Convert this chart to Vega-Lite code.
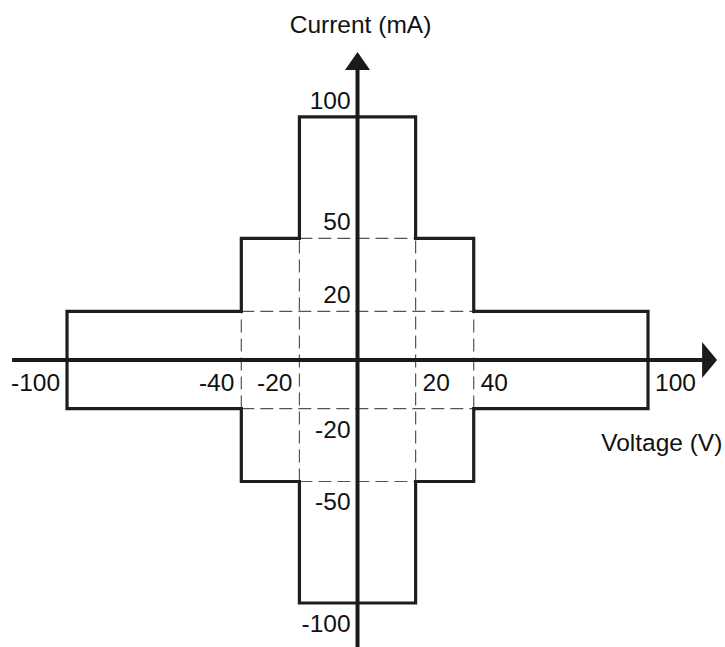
{
  "$schema": "https://vega.github.io/schema/vega-lite/v6.json",
  "width": 725,
  "height": 647,
  "autosize": {"type": "none"},
  "padding": 0,
  "background": "white",
  "config": {"view": {"stroke": null}, "text": {"font": "Liberation Sans", "fontSize": 24.5, "color": "#111111"}},
  "datasets": {
    "outline": [
      {"order": 1, "v": -100, "i": 20},
      {"order": 2, "v": -40, "i": 20},
      {"order": 3, "v": -40, "i": 50},
      {"order": 4, "v": -20, "i": 50},
      {"order": 5, "v": -20, "i": 100},
      {"order": 6, "v": 20, "i": 100},
      {"order": 7, "v": 20, "i": 50},
      {"order": 8, "v": 40, "i": 50},
      {"order": 9, "v": 40, "i": 20},
      {"order": 10, "v": 100, "i": 20},
      {"order": 11, "v": 100, "i": -20},
      {"order": 12, "v": 40, "i": -20},
      {"order": 13, "v": 40, "i": -50},
      {"order": 14, "v": 20, "i": -50},
      {"order": 15, "v": 20, "i": -100},
      {"order": 16, "v": -20, "i": -100},
      {"order": 17, "v": -20, "i": -50},
      {"order": 18, "v": -40, "i": -50},
      {"order": 19, "v": -40, "i": -20},
      {"order": 20, "v": -100, "i": -20},
      {"order": 21, "v": -100, "i": 20}
    ],
    "guides": [
      {"v": -20, "v2": 20, "i": 50, "i2": 50},
      {"v": -40, "v2": 40, "i": 20, "i2": 20},
      {"v": -40, "v2": 40, "i": -20, "i2": -20},
      {"v": -20, "v2": 20, "i": -50, "i2": -50},
      {"v": -40, "v2": -40, "i": -20, "i2": 20},
      {"v": -20, "v2": -20, "i": -50, "i2": 50},
      {"v": 20, "v2": 20, "i": -50, "i2": 50},
      {"v": 40, "v2": 40, "i": -20, "i2": 20}
    ],
    "axes": [
      {"v": -118.9, "v2": 121, "i": 0, "i2": 0},
      {"v": 0, "v2": 0, "i": -120, "i2": 123}
    ],
    "arrows": [
      {"v": 0, "i": 123, "dir": "up"},
      {"v": 121.2, "i": 0, "dir": "right"}
    ],
    "xticks": [
      {"v": -100, "i": 0, "label": "-100"},
      {"v": -40, "i": 0, "label": "-40"},
      {"v": -20, "i": 0, "label": "-20"},
      {"v": 20, "i": 0, "label": "20"},
      {"v": 40, "i": 0, "label": "40"},
      {"v": 100, "i": 0, "label": "100"}
    ],
    "yticks": [
      {"v": 0, "i": 100, "label": "100"},
      {"v": 0, "i": 50, "label": "50"},
      {"v": 0, "i": 20, "label": "20"},
      {"v": 0, "i": -20, "label": "-20"},
      {"v": 0, "i": -50, "label": "-50"},
      {"v": 0, "i": -100, "label": "-100"}
    ],
    "titles": [
      {"v": 0, "i": 134.6, "label": "Current (mA)", "which": "y"},
      {"v": 125.6, "i": -37.4, "label": "Voltage (V)", "which": "x"}
    ]
  },
  "layer": [
    {
      "data": {"name": "guides"},
      "mark": {"type": "rule", "color": "#555555", "strokeWidth": 1.2, "strokeDash": [13, 6]},
      "encoding": {
        "x": {"field": "v", "type": "quantitative", "scale": {"domain": [-123.07, 126.5], "nice": false, "zero": false}, "axis": null},
        "x2": {"field": "v2"},
        "y": {"field": "i", "type": "quantitative", "scale": {"domain": [-118.1, 148.1], "nice": false, "zero": false}, "axis": null},
        "y2": {"field": "i2"}
      }
    },
    {
      "data": {"name": "outline"},
      "mark": {"type": "line", "color": "#1e1e1e", "strokeWidth": 3.2, "strokeJoin": "miter", "strokeCap": "square"},
      "encoding": {
        "x": {"field": "v", "type": "quantitative", "scale": {"domain": [-123.07, 126.5], "nice": false, "zero": false}, "axis": null},
        "y": {"field": "i", "type": "quantitative", "scale": {"domain": [-118.1, 148.1], "nice": false, "zero": false}, "axis": null},
        "order": {"field": "order", "type": "quantitative"}
      }
    },
    {
      "data": {"name": "axes"},
      "mark": {"type": "rule", "color": "#1a1a1a", "strokeWidth": 4},
      "encoding": {
        "x": {"field": "v", "type": "quantitative", "scale": {"domain": [-123.07, 126.5], "nice": false, "zero": false}, "axis": null},
        "x2": {"field": "v2"},
        "y": {"field": "i", "type": "quantitative", "scale": {"domain": [-118.1, 148.1], "nice": false, "zero": false}, "axis": null},
        "y2": {"field": "i2"}
      }
    },
    {
      "data": {"name": "arrows"},
      "mark": {"type": "point", "filled": true, "opacity": 1, "color": "#1a1a1a", "size": 400},
      "encoding": {
        "x": {"field": "v", "type": "quantitative", "scale": {"domain": [-123.07, 126.5], "nice": false, "zero": false}, "axis": null},
        "y": {"field": "i", "type": "quantitative", "scale": {"domain": [-118.1, 148.1], "nice": false, "zero": false}, "axis": null},
        "shape": {"field": "dir", "type": "nominal", "legend": null, "scale": {"domain": ["up", "right"], "range": ["M 0 -0.9 L 1.25 0.9 L -1.25 0.9 Z", "M 0.75 0 L -0.75 -1.8 L -0.75 1.8 Z"]}}
      }
    },
    {
      "data": {"name": "xticks"},
      "transform": [{"filter": "datum.v < 0"}],
      "mark": {"type": "text", "align": "right", "baseline": "alphabetic", "dx": -7, "dy": 31},
      "encoding": {
        "x": {"field": "v", "type": "quantitative", "scale": {"domain": [-123.07, 126.5], "nice": false, "zero": false}, "axis": null},
        "y": {"field": "i", "type": "quantitative", "scale": {"domain": [-118.1, 148.1], "nice": false, "zero": false}, "axis": null},
        "text": {"field": "label", "type": "nominal"}
      }
    },
    {
      "data": {"name": "xticks"},
      "transform": [{"filter": "datum.v > 0"}],
      "mark": {"type": "text", "align": "left", "baseline": "alphabetic", "dx": 7, "dy": 31},
      "encoding": {
        "x": {"field": "v", "type": "quantitative", "scale": {"domain": [-123.07, 126.5], "nice": false, "zero": false}, "axis": null},
        "y": {"field": "i", "type": "quantitative", "scale": {"domain": [-118.1, 148.1], "nice": false, "zero": false}, "axis": null},
        "text": {"field": "label", "type": "nominal"}
      }
    },
    {
      "data": {"name": "yticks"},
      "transform": [{"filter": "datum.i > 0"}],
      "mark": {"type": "text", "align": "right", "baseline": "alphabetic", "dx": -7, "dy": -8},
      "encoding": {
        "x": {"field": "v", "type": "quantitative", "scale": {"domain": [-123.07, 126.5], "nice": false, "zero": false}, "axis": null},
        "y": {"field": "i", "type": "quantitative", "scale": {"domain": [-118.1, 148.1], "nice": false, "zero": false}, "axis": null},
        "text": {"field": "label", "type": "nominal"}
      }
    },
    {
      "data": {"name": "yticks"},
      "transform": [{"filter": "datum.i < 0"}],
      "mark": {"type": "text", "align": "right", "baseline": "alphabetic", "dx": -7, "dy": 29},
      "encoding": {
        "x": {"field": "v", "type": "quantitative", "scale": {"domain": [-123.07, 126.5], "nice": false, "zero": false}, "axis": null},
        "y": {"field": "i", "type": "quantitative", "scale": {"domain": [-118.1, 148.1], "nice": false, "zero": false}, "axis": null},
        "text": {"field": "label", "type": "nominal"}
      }
    },
    {
      "data": {"name": "titles"},
      "transform": [{"filter": "datum.which == 'y'"}],
      "mark": {"type": "text", "align": "center", "baseline": "alphabetic", "dx": 3},
      "encoding": {
        "x": {"field": "v", "type": "quantitative", "scale": {"domain": [-123.07, 126.5], "nice": false, "zero": false}, "axis": null},
        "y": {"field": "i", "type": "quantitative", "scale": {"domain": [-118.1, 148.1], "nice": false, "zero": false}, "axis": null},
        "text": {"field": "label", "type": "nominal"}
      }
    },
    {
      "data": {"name": "titles"},
      "transform": [{"filter": "datum.which == 'x'"}],
      "mark": {"type": "text", "align": "right", "baseline": "alphabetic"},
      "encoding": {
        "x": {"field": "v", "type": "quantitative", "scale": {"domain": [-123.07, 126.5], "nice": false, "zero": false}, "axis": null},
        "y": {"field": "i", "type": "quantitative", "scale": {"domain": [-118.1, 148.1], "nice": false, "zero": false}, "axis": null},
        "text": {"field": "label", "type": "nominal"}
      }
    }
  ]
}
